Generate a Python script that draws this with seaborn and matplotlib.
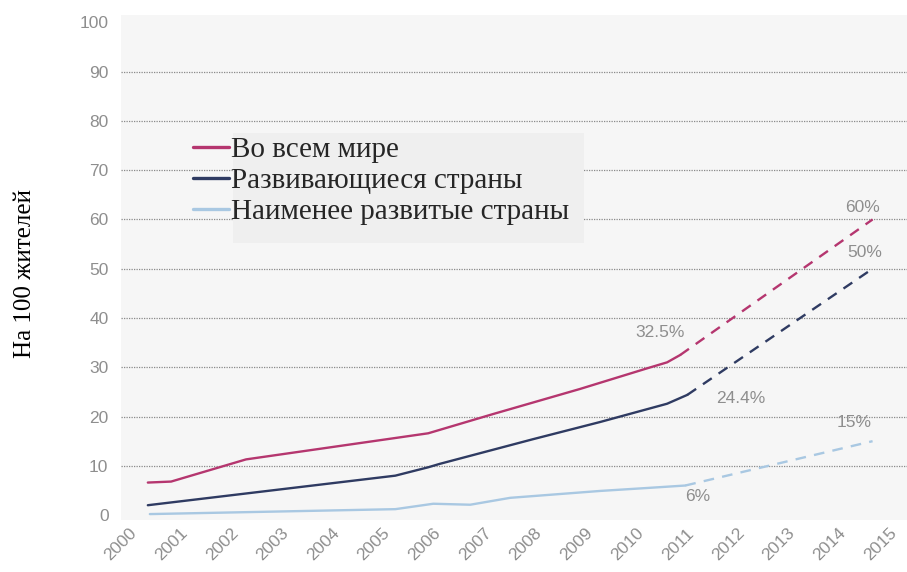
import matplotlib
matplotlib.use("Agg")
import matplotlib.pyplot as plt
from matplotlib.lines import Line2D
from matplotlib.patches import Rectangle
import pandas as pd
import seaborn as sns

# ---- data (subscriptions per 100 inhabitants) ----
series_names = ["Во всем мире", "Развивающиеся страны", "Наименее развитые страны"]

world_years = [2000.53, 2000.99, 2002.47, 2006.07, 2007.35, 2009.07, 2010.40, 2010.79, 2011.05]
world_vals = [6.6, 6.8, 11.3, 16.6, 20.5, 25.6, 29.8, 31.0, 32.5]

developing_years = [2000.53, 2005.42, 2006.07, 2006.30, 2008.14, 2009.47, 2010.79, 2011.19]
developing_vals = [2.0, 8.0, 9.7, 10.4, 15.4, 18.9, 22.6, 24.4]

ldc_years = [2000.57, 2005.42, 2006.17, 2006.90, 2007.69, 2009.47, 2010.40, 2011.15]
ldc_vals = [0.2, 1.2, 2.3, 2.1, 3.5, 4.9, 5.5, 6.0]

# 2015 targets
target_year = 2014.85
target_vals = [60, 50, 15]

# end-of-series value labels
end_labels = ["32.5%", "24.4%", "6%"]
target_labels = ["60%", "50%", "15%"]

x_ticks = list(range(2000, 2016))
y_ticks = list(range(0, 101, 10))
y_label = "На 100 жителей"

colors = ["#b5366f", "#2f3b62", "#a9c8e2"]

# ---- tables ----
hist = [(world_years, world_vals), (developing_years, developing_vals), (ldc_years, ldc_vals)]
rows = []
for name, (xs, vs) in zip(series_names, hist):
    rows += [{"year": x, "value": v, "series": name} for x, v in zip(xs, vs)]
df_hist = pd.DataFrame(rows)

proj_rows = []
for name, (xs, vs), tv in zip(series_names, hist, target_vals):
    proj_rows.append({"year": xs[-1], "value": vs[-1], "series": name})
    proj_rows.append({"year": target_year, "value": tv, "series": name})
df_proj = pd.DataFrame(proj_rows)

palette = dict(zip(series_names, colors))

# ---- figure ----
sns.set_style("white")
W, H = 907, 572
fig = plt.figure(figsize=(W / 100, H / 100), dpi=100)
ax_left, ax_right, ax_top, ax_bottom = 121, 907, 15, 520
ax = fig.add_axes([ax_left / W, 1 - ax_bottom / H, (ax_right - ax_left) / W, (ax_bottom - ax_top) / H])
ax.set_facecolor("#f6f6f6")

sns.lineplot(data=df_hist, x="year", y="value", hue="series", palette=palette,
             sort=False, linewidth=1.7, legend=False, ax=ax, zorder=3)
sns.lineplot(data=df_proj, x="year", y="value", hue="series", palette=palette,
             sort=False, linewidth=1.7, linestyle=(0, (4.5, 3.5)), legend=False, ax=ax, zorder=3)

ax.set_xlim(2000, 2015.53)
ax.set_ylim(-1, 101.5)
ax.set_xticks(x_ticks)
ax.set_yticks(y_ticks)
ax.set_xlabel("")
ax.set_ylabel("")

for s in ax.spines.values():
    s.set_visible(False)

tick_font = {"family": "Liberation Sans", "size": 12.5, "color": "#8e8e8e"}
ax.set_xticklabels([str(t) for t in x_ticks], rotation=45, ha="center", **tick_font)
ax.set_yticklabels([str(t) for t in y_ticks], **tick_font)
ax.tick_params(axis="both", length=0)
ax.tick_params(axis="y", pad=9)
ax.tick_params(axis="x", pad=4)

# dotted gridlines, skipping 0 and 100
ax.yaxis.grid(True, linestyle=(0, (1, 1)), linewidth=0.9, color="#8a8a8a")
ax.set_axisbelow(True)
glines = ax.get_ygridlines()
glines[0].set_visible(False)
glines[-1].set_visible(False)

# value labels
lab_font = {"family": "Liberation Sans", "size": 12.5, "color": "#8e8e8e"}
end_offsets = [(-20, 22), (53, -4), (12, -11)]
for (xs, vs), txt, off in zip(hist, end_labels, end_offsets):
    ax.annotate(txt, (xs[-1], vs[-1]), xytext=off, textcoords="offset pixels",
                ha="center", va="center", **lab_font)
target_offsets = [(-10, 12), (-8, 16), (-18, 19)]
for tv, txt, off in zip(target_vals, target_labels, target_offsets):
    ax.annotate(txt, (target_year, tv), xytext=off, textcoords="offset pixels",
                ha="center", va="center", **lab_font)

# legend: handles outside a grey box behind the labels
fig.patches.append(Rectangle((233 / W, 1 - 243 / H), (584 - 233) / W, (243 - 133) / H,
                             transform=fig.transFigure, facecolor="#efefef",
                             edgecolor="none", zorder=4))
handles = [Line2D([], [], color=c, linewidth=2.4) for c in colors]
leg = fig.legend(handles, series_names, loc="upper left",
                 bbox_to_anchor=(193 / W, 1 - 137 / H), bbox_transform=fig.transFigure,
                 frameon=False, prop={"family": "Liberation Serif", "size": 21},
                 handlelength=1.25, handletextpad=0.05, labelspacing=0.15,
                 borderpad=0, borderaxespad=0)
leg.set_zorder(5)

fig.text(25 / W, 1 - 274 / H, y_label, rotation=90, ha="center", va="center",
         family="Liberation Serif", size=18, color="black")

fig.savefig("out.png", dpi=100, facecolor="white")
